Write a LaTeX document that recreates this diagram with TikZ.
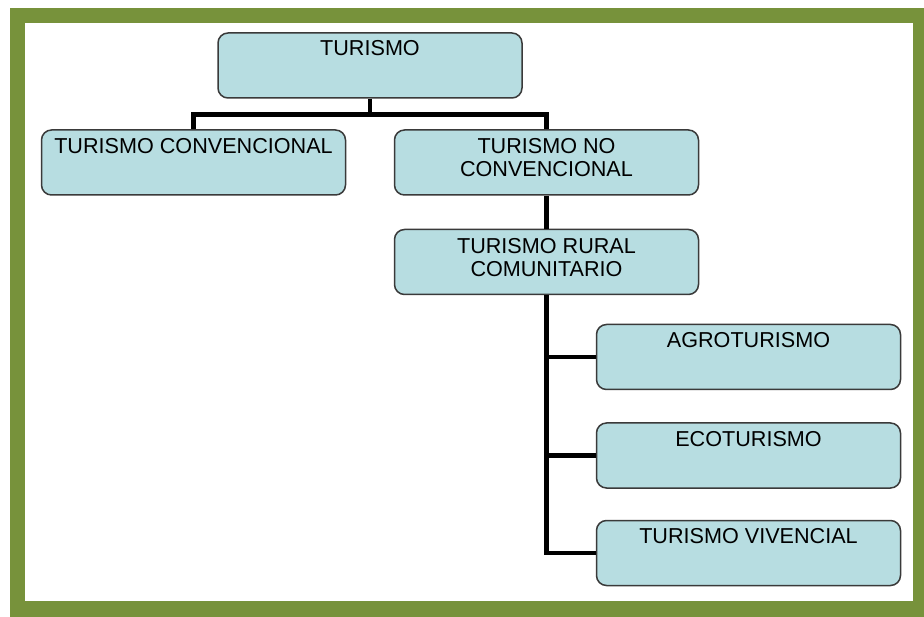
\documentclass[tikz,border=0pt]{standalone}
\usepackage{fontspec}
\setmainfont{Liberation Sans}
\usetikzlibrary{positioning,calc}

\definecolor{olivegreen}{HTML}{77923B}
\definecolor{paleblue}{HTML}{B7DDE1}
\definecolor{boxline}{HTML}{3A3A3A}

\begin{document}
\begin{tikzpicture}[
            x=1pt,y=-1pt,
            %node distance=32pt,
            box/.style={rectangle,rounded corners=10pt,draw=boxline,fill=paleblue,line width=1.5pt,
              minimum width=304pt,minimum height=65pt,inner sep=0pt},
            txt/.style={inner sep=0pt,align=center,font=\fontsize{21.6}{23}\selectfont},
            link/.style={draw=black,line width=4.5pt}
          ]
          \useasboundingbox (0,0) rectangle (924,617);
          % frame
          \fill[olivegreen] (9.5,8) rectangle (924,617);
          \fill[white] (25,23.5) rectangle (912.5,600.5);

          \node[box] (tur) at (370,65.5) {};
          \node[box] (conv) at (193.5,162.5) {};
          \node[box] (noconv) at (546.5,162.5) {};
          \node[box, below=33pt of noconv] (rural) {};
          \node[box] (agro) at (748.5,357) {};
          \node[box, below=32pt of agro] (eco) {};
          \node[box, below=31pt of eco] (viv) {};

          \node[txt, below=8pt of tur.north] (tur-t) {TURISMO};
          \node[txt, below=8.5pt of conv.north] (conv-t) {TURISMO CONVENCIONAL};
          \node[txt, below=9pt of noconv.north] (noconv-t) {TURISMO NO\\CONVENCIONAL};
          \node[txt, below=9pt of rural.north] (rural-t) {TURISMO RURAL\\COMUNITARIO};
          \node[txt, below=8.5pt of agro.north] (agro-t) {AGROTURISMO};
          \node[txt, below=8.5pt of eco.north] (eco-t) {ECOTURISMO};
          \node[txt, below=8.5pt of viv.north] (viv-t) {TURISMO VIVENCIAL};

          \draw[link] (tur.south) -- ++(0,16) coordinate (bar);
          \draw[link] (conv.north) |- (bar) -| (noconv.north);
          \draw[link] (noconv) -- (rural);
          \draw[link] (rural.south) |- (viv.west);
          \draw[link] (rural.south |- agro.west) -- (agro.west);
          \draw[link] (rural.south |- eco.west) -- (eco.west);
        \end{tikzpicture}
\end{document}
